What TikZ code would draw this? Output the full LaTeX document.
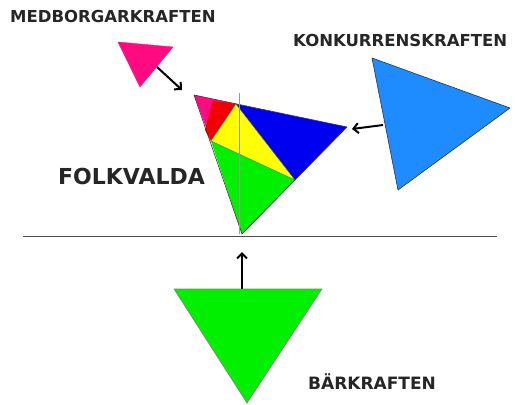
\documentclass[tikz,border=0pt]{standalone}
\usepackage{fontspec}
\setmainfont{DejaVu Sans}
\usetikzlibrary{arrows.meta}
\definecolor{pinkc}{HTML}{FF0A80}
\definecolor{bigblue}{HTML}{1E8CFF}
\definecolor{grn}{HTML}{00F000}
\definecolor{ylw}{HTML}{FFFF00}
\definecolor{redc}{HTML}{F00000}
\definecolor{blu}{HTML}{0000F0}
\begin{document}
\begin{tikzpicture}[x=1pt,y=-1pt,
  tri/.style={draw=black!80,line width=0.6pt,line join=round},
  lbl/.style={font=\bfseries\fontsize{16.5}{18}\selectfont,inner sep=0pt,text=black!85},
  force/.style={draw=black,line width=2pt,-{Straight Barb[length=5pt,width=10pt,line width=2pt]}}]
\useasboundingbox (0,0) rectangle (515,405);
% central triangle vertices
\coordinate (A) at (194,95);
\coordinate (B) at (347,127);
\coordinate (C) at (242,234);
\coordinate (PT) at (236,104);
\coordinate (PL) at (211,141);
\coordinate (PR) at (295,180);
% regions
\fill[pinkc] (A) -- (PT) -- (PL) -- cycle;
\fill[redc] (213,101) -- (PT) -- (PL) -- (205,130) -- cycle;
\fill[ylw] (PL) -- (PT) -- (PR) -- cycle;
\fill[blu] (PT) -- (B) -- (PR) -- cycle;
\fill[grn] (PL) -- (PR) -- (C) -- cycle;
\draw[black!60,line width=0.4pt] (PL) -- (PT) -- (PR) -- cycle;
\draw[tri] (A) -- (B) -- (C) -- cycle;
% vertical gray line
\draw[gray!80,line width=1pt] (239,93) -- (239,234);
% horizontal ground line
\draw[black!70,line width=1pt] (23,236) -- (497,236);
% outer triangles
\filldraw[fill=pinkc,draw=pinkc] (118,42) -- (173,47) -- (140,87) -- cycle;
\filldraw[tri,fill=bigblue] (372,58) -- (510,108) -- (398,190) -- cycle;
\filldraw[tri,fill=grn,draw=black!50] (174,289) -- (322,289) -- (247,403) -- cycle;
% arrows
\coordinate (m1) at (157,67);
\coordinate (m2) at (182,90);
\coordinate (k1) at (383,125);
\coordinate (k2) at (352,129);
\coordinate (b1) at (242,289);
\coordinate (b2) at (242,252);
\draw[force] (m1) -- (m2);
\draw[force] (k1) -- (k2);
\draw[force] (b1) -- (b2);
% labels
\node[lbl,anchor=west] (med) at (10,16) {MEDBORGARKRAFTEN};
\node[lbl,anchor=west] (kon) at (293,40) {KONKURRENSKRAFTEN};
\node[lbl,anchor=west,font=\bfseries\fontsize{22}{24}\selectfont] (folk) at (58,176) {FOLKVALDA};
\node[lbl,anchor=west,font=\bfseries\fontsize{17}{19}\selectfont] (bar) at (308,382) {BÄRKRAFTEN};
\end{tikzpicture}
\end{document}
